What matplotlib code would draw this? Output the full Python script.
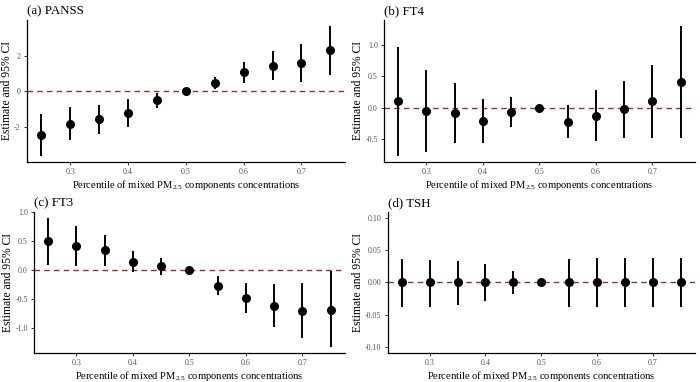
import matplotlib
matplotlib.use("Agg")
import matplotlib.pyplot as plt

plt.rcParams['font.family'] = ['Liberation Serif', 'DejaVu Serif']
plt.rcParams['mathtext.fontset'] = 'custom'
plt.rcParams['mathtext.rm'] = 'Liberation Serif'

pct = [0.25, 0.30, 0.35, 0.40, 0.45, 0.50, 0.55, 0.60, 0.65, 0.70, 0.75]

panss_est = [-2.45, -1.83, -1.57, -1.23, -0.49, 0.0, 0.47, 1.06, 1.43, 1.60, 2.32]
panss_lo = [-3.62, -2.75, -2.42, -2.04, -0.92, 0.0, 0.11, 0.45, 0.64, 0.53, 0.94]
panss_hi = [-1.30, -0.87, -0.75, -0.42, -0.11, 0.0, 0.83, 1.66, 2.25, 2.66, 3.66]

ft4_est = [0.106, -0.048, -0.08, -0.207, -0.074, 0.0, -0.218, -0.128, -0.021, 0.101, 0.41]
ft4_lo = [-0.755, -0.707, -0.553, -0.564, -0.309, 0.0, -0.473, -0.527, -0.473, -0.479, -0.479]
ft4_hi = [0.957, 0.606, 0.388, 0.133, 0.165, 0.0, 0.037, 0.277, 0.426, 0.676, 1.29]

ft3_est = [0.50, 0.42, 0.345, 0.149, 0.075, 0.0, -0.264, -0.477, -0.609, -0.695, -0.684]
ft3_lo = [0.098, 0.069, 0.080, -0.034, -0.08, 0.0, -0.431, -0.73, -0.971, -1.167, -1.316]
ft3_hi = [0.897, 0.764, 0.615, 0.328, 0.218, 0.0, -0.098, -0.224, -0.241, -0.224, -0.01]

tsh_est = [0.0, 0.0, 0.0, 0.0, 0.0, 0.0, 0.0, 0.0, 0.0, 0.0, 0.0]
tsh_lo = [-0.039, -0.038, -0.035, -0.029, -0.018, 0.0, -0.038, -0.039, -0.039, -0.039, -0.039]
tsh_hi = [0.0366, 0.0356, 0.033, 0.029, 0.018, 0.0, 0.036, 0.0377, 0.0377, 0.0377, 0.0377]

xticks = [0.3, 0.4, 0.5, 0.6, 0.7]

panels = [
    ("(a) PANSS", panss_est, panss_lo, panss_hi, [-2, 0, 2], None, [0.0386, 0.576, 0.454, 0.372]),
    ("(b) FT4", ft4_est, ft4_lo, ft4_hi, [-0.5, 0.0, 0.5, 1.0], None, [0.5486, 0.576, 0.444, 0.372]),
    ("(c) FT3", ft3_est, ft3_lo, ft3_hi, [-1.0, -0.5, 0.0, 0.5, 1.0], None, [0.0486, 0.076, 0.444, 0.369]),
    ("(d) TSH", tsh_est, tsh_lo, tsh_hi, [-0.10, -0.05, 0.0, 0.05, 0.10], (-0.1, 0.1), [0.554, 0.076, 0.4386, 0.369]),
]

fig = plt.figure(figsize=(7, 3.82), dpi=100)

for title, est, lo, hi, yt, ylim, pos in panels:
    ax = fig.add_axes(pos)
    ax.axhline(0, color='#9A2E28', linestyle=(0, (4, 3)), linewidth=1.0, zorder=1)
    ax.vlines(pct, lo, hi, color='black', linewidth=1.4, zorder=2)
    ax.plot(pct, est, 'o', color='black', markersize=5.5, zorder=3)
    ax.set_xlim(0.225, 0.775)
    if ylim is None:
        lo_all, hi_all = min(lo), max(hi)
    else:
        lo_all, hi_all = ylim
    pad = (hi_all - lo_all) * 0.05
    ax.set_ylim(lo_all - pad, hi_all + pad)
    ax.set_xticks(xticks)
    ax.set_xticklabels([f"{v:.1f}" for v in xticks])
    ax.set_yticks(yt)
    if title.startswith("(a)"):
        ax.set_yticklabels([str(v) for v in yt])
    elif title.startswith("(d)"):
        ax.set_yticklabels([f"{v:.2f}" for v in yt])
    else:
        ax.set_yticklabels([f"{v:.1f}" for v in yt])
    for s in ['top', 'right']:
        ax.spines[s].set_visible(False)
    for s in ['left', 'bottom']:
        ax.spines[s].set_linewidth(0.9)
    ax.tick_params(length=2.5, width=0.7, color='#333333', labelsize=5.8,
                   labelcolor='#555555', pad=2)
    ax.set_xlabel(r"Percentile of mixed PM$_{2.5}$ components concentrations",
                  fontsize=7.6, labelpad=1.5)
    ax.set_ylabel("Estimate and 95% CI", fontsize=8.4, labelpad=1)
    ax.set_title(title, loc='left', fontsize=9.3, pad=4)

fig.savefig("out.png", dpi=100)
